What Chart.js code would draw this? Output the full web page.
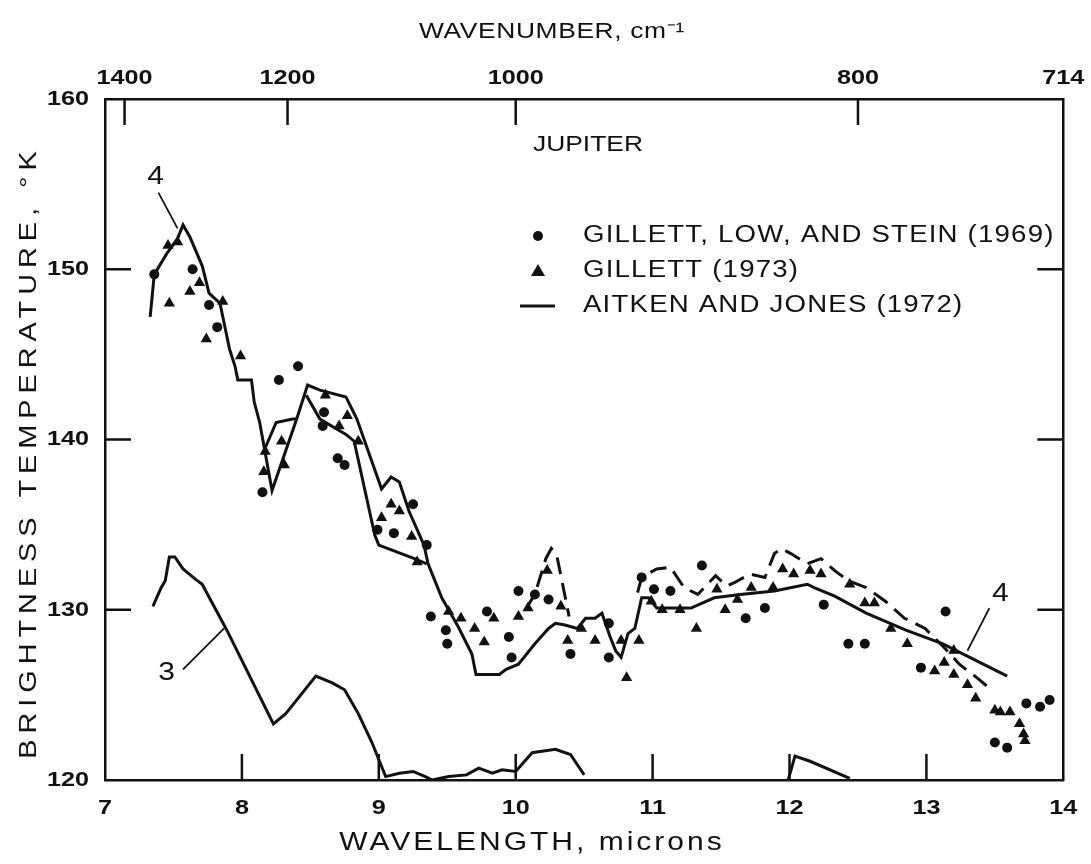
<!DOCTYPE html>
<html>
<head>
<meta charset="utf-8">
<script src="https://cdn.jsdelivr.net/npm/chart.js@4/dist/chart.umd.min.js"></script>
<style>
  html, body { margin: 0; padding: 0; background: #fff; }
</style>
</head>
<body>
<canvas id="chart" width="1091" height="864"></canvas>
<script>
// Jupiter brightness temperature spectrum, 7-14 microns

// axis ticks
const wavelengthTicks = [7, 8, 9, 10, 11, 12, 13, 14];
const wavenumberTicks = [1400, 1200, 1000, 800, 714];
const temperatureTicks = [120, 130, 140, 150, 160];

// Gillett, Low and Stein (1969) - filled circles
const glsWave = [7.36, 7.64, 7.76, 7.82, 8.15, 8.27, 8.41, 8.60, 8.59, 8.70, 8.75, 8.99, 9.11, 9.25, 9.35, 9.38,
  9.49, 9.50, 9.79, 9.95, 9.97, 10.02, 10.14, 10.24, 10.40, 10.68, 10.68, 10.92, 11.01, 11.13, 11.36, 11.68,
  11.82, 12.25, 12.43, 12.55, 12.96, 13.14, 13.50, 13.59, 13.73, 13.83, 13.90];
const glsTemp = [149.7, 150.0, 147.9, 146.6, 136.9, 143.5, 144.3, 141.6, 140.8, 138.9, 138.5, 134.7, 134.5, 136.2, 133.8, 129.6,
  128.8, 128.0, 129.9, 128.4, 127.2, 131.1, 130.9, 130.6, 127.4, 129.2, 127.2, 131.9, 131.2, 131.1, 132.6, 129.5,
  130.1, 130.3, 128.0, 128.0, 126.6, 129.9, 122.2, 121.9, 124.5, 124.3, 124.7];

// Gillett (1973) - filled triangles
const gilWave = [7.46, 7.53, 7.47, 7.62, 7.69, 7.74, 7.86, 7.99, 8.16, 8.17, 8.29, 8.31, 8.61, 8.71, 8.77, 8.85,
  9.02, 9.09, 9.15, 9.24, 9.28, 9.51, 9.60, 9.70, 9.77, 9.84, 10.02, 10.09, 10.23, 10.33, 10.38, 10.48,
  10.58, 10.77, 10.81, 10.90, 10.99, 11.07, 11.20, 11.32, 11.47, 11.53, 11.62, 11.72, 11.88, 11.95, 12.03,
  12.15, 12.23, 12.44, 12.55, 12.62, 12.74, 12.86, 13.06, 13.13, 13.20, 13.20, 13.30, 13.36, 13.54, 13.50,
  13.72, 13.61, 13.68, 13.71];
const gilTemp = [151.4, 151.6, 148.0, 148.7, 149.2, 145.9, 148.1, 144.9, 138.1, 139.3, 139.9, 138.5, 142.6, 140.8, 141.4, 139.9,
  135.4, 136.2, 135.8, 134.3, 132.8, 129.9, 129.5, 128.9, 128.1, 129.5, 129.6, 130.1, 132.3, 130.2, 128.2, 128.9,
  128.2, 128.2, 126.0, 128.2, 130.5, 130.0, 130.0, 128.9, 131.2, 130.0, 130.6, 131.3, 131.3, 132.4, 132.1,
  132.3, 132.1, 131.5, 130.4, 130.4, 128.9, 128.0, 126.4, 126.9, 127.6, 126.2, 125.6, 124.8, 124.0, 124.1,
  122.3, 124.0, 123.3, 122.7];

// Aitken and Jones (1972) - curve 4
const ajWave = [7.33, 7.36, 7.45, 7.53, 7.57, 7.62, 7.71, 7.76, 7.84, 7.91, 7.95, 7.97, 8.07, 8.09, 8.13, 8.22,
  8.40, 8.48, 8.57, 8.76, 8.84, 8.95, 9.02, 9.09, 9.15, 9.22, 9.33, 9.36, 9.46, 9.58, 9.68, 9.71, 9.76, 9.88,
  9.93, 10.02, 10.14, 10.24, 10.29, 10.36, 10.45, 10.51, 10.58, 10.63, 10.69, 10.73, 10.77, 10.82, 10.87,
  10.92, 10.97, 11.03, 11.28, 11.45, 11.64, 11.89, 12.13, 12.18, 12.33, 12.56, 12.85, 13.12, 13.59];
const ajTemp = [147.2, 149.7, 150.9, 151.8, 152.6, 151.9, 150.2, 148.6, 148.0, 145.3, 144.3, 143.5, 143.5, 142.2, 141.0, 137.0,
  141.2, 143.2, 142.9, 142.5, 141.2, 138.7, 137.1, 137.8, 137.5, 135.8, 133.8, 132.7, 130.7, 129.0, 127.4, 126.2, 126.2, 126.2,
  126.5, 126.8, 128.0, 128.9, 129.2, 129.1, 128.9, 129.5, 129.5, 129.8, 128.4, 127.6, 127.2, 128.6, 128.9,
  130.7, 130.7, 130.1, 130.1, 130.7, 130.9, 131.1, 131.5, 131.3, 130.8, 129.8, 128.8, 128.0, 126.1];

// lower branch of curve 4 between 8.2 and 9.4 microns
const ajLowWave = [8.17, 8.25, 8.37, 8.40, null, 8.47, 8.57, 8.76, 8.82, 8.97, 9.00, 9.26, 9.35];
const ajLowTemp = [139.5, 141.0, 141.2, 141.2, null, 142.6, 141.2, 140.3, 139.9, 134.4, 133.8, 133.0, 132.7];

// dashed upper envelope
const dashWave = [10.07, 10.14, 10.22, 10.26, 10.30, 10.35, 10.39, null,
  10.89, 10.92, 11.03, 11.13, 11.23, 11.33, 11.46, 11.54, 11.60, 11.71, 11.82, 11.89, 11.94, 12.01,
  12.13, 12.23, 12.33, 12.43, 12.56, 12.70, 12.84, 12.99, 13.14, 13.24, 13.37, 13.46];
const dashTemp = [130.0, 130.9, 133.0, 133.6, 133.2, 131.2, 129.6, null,
  131.0, 131.9, 132.4, 132.5, 131.3, 130.9, 132.0, 131.4, 131.6, 132.1, 131.9, 133.3, 133.6, 133.3,
  132.7, 133.0, 132.3, 131.7, 131.3, 130.5, 129.5, 128.9, 127.7, 126.8, 126.0, 125.4];

// curve 3
const c3Wave = [7.35, 7.41, 7.44, 7.47, 7.51, 7.57, 7.66, 7.71, 7.89, 8.23, 8.32, 8.42, 8.54, 8.66, 8.75, 8.85,
  8.95, 9.05, 9.15, 9.25, 9.34, 9.39, 9.51, 9.64, 9.73, 9.83, 9.90, 10.00, 10.12, 10.29, 10.40, 10.50, null,
  11.99, 12.04, 12.15, 12.44];
const c3Temp = [130.2, 131.3, 131.7, 133.1, 133.1, 132.4, 131.8, 131.5, 128.8, 123.3, 123.9, 124.9, 126.1, 125.7, 125.3, 123.9,
  122.2, 120.2, 120.4, 120.5, 120.2, 120.0, 120.2, 120.3, 120.7, 120.4, 120.6, 120.5, 121.6, 121.8, 121.5, 120.3, null,
  120.0, 121.4, 121.1, 120.1];

// curve numbers with their leader lines (data units)
const curveLabels = [
  { text: '4', x: 7.37, y: 155.4, from: [7.39, 154.5], to: [7.53, 152.4] },
  { text: '4', x: 13.54, y: 130.9, from: [13.46, 130.1], to: [13.30, 127.6] },
  { text: '3', x: 7.45, y: 126.3, from: [7.57, 126.5], to: [7.87, 128.9] }
];

const FONT = "'Liberation Sans', Arial, Helvetica, sans-serif";
const INK = '#111';
const TEXT_STRETCH = 1.2;
const TICK_LEN = 26;

function points(xs, ys) {
  return xs.map((x, i) => ({ x: x, y: ys[i] }));
}

// the lettering on this figure is wide, so every label is stretched sideways
const wideText = {
  id: 'wideText',
  beforeInit(chart) {
    const ctx = chart.ctx;
    const fill = ctx.fillText.bind(ctx);
    ctx.fillText = function (text, x, y, maxWidth) {
      ctx.save();
      ctx.translate(x, y);
      ctx.scale(TEXT_STRETCH, 1);
      if (maxWidth === undefined || maxWidth === null) fill(text, 0, 0);
      else fill(text, 0, 0, maxWidth / TEXT_STRETCH);
      ctx.restore();
    };
  }
};

// tick marks point into the plot on all four sides
const innerTicks = {
  id: 'innerTicks',
  afterDraw(chart) {
    const { ctx, chartArea: a, scales } = chart;
    ctx.save();
    ctx.strokeStyle = INK;
    ctx.lineWidth = 2.5;
    ctx.beginPath();
    scales.x.ticks.forEach(t => {
      const px = scales.x.getPixelForValue(t.value);
      if (px > a.left + 2 && px < a.right - 2) { ctx.moveTo(px, a.bottom); ctx.lineTo(px, a.bottom - TICK_LEN); }
    });
    scales.xTop.ticks.forEach(t => {
      const px = scales.xTop.getPixelForValue(t.value);
      if (px > a.left + 2 && px < a.right - 2) { ctx.moveTo(px, a.top); ctx.lineTo(px, a.top + TICK_LEN); }
    });
    scales.y.ticks.forEach(t => {
      const py = scales.y.getPixelForValue(t.value);
      if (py > a.top + 2 && py < a.bottom - 2) {
        ctx.moveTo(a.left, py); ctx.lineTo(a.left + TICK_LEN, py);
        ctx.moveTo(a.right, py); ctx.lineTo(a.right - TICK_LEN, py);
      }
    });
    ctx.stroke();
    ctx.restore();
  }
};

// spaced-out axis titles
function spacedText(ctx, text, x, y, size, spacing, angle) {
  ctx.save();
  ctx.translate(x, y);
  if (angle) ctx.rotate(angle);
  ctx.font = size + 'px ' + FONT;
  ctx.letterSpacing = spacing + 'px';
  ctx.textAlign = 'center';
  ctx.textBaseline = 'middle';
  ctx.fillText(text, 0, 0);
  ctx.restore();
}

const axisTitles = {
  id: 'axisTitles',
  afterDraw(chart) {
    const ctx = chart.ctx;
    ctx.save();
    ctx.fillStyle = INK;
    spacedText(ctx, 'WAVENUMBER, cm⁻¹', 552, 32, 22, 0.5, 0);
    spacedText(ctx, 'WAVELENGTH, microns', 532, 843, 25, 2.5, 0);
    spacedText(ctx, 'BRIGHTNESS TEMPERATURE, °K', 29, 452, 24, 5, -Math.PI / 2);
    ctx.restore();
  }
};

// key, planet name and curve numbers
const keyAndLabels = {
  id: 'keyAndLabels',
  afterDatasetsDraw(chart) {
    const { ctx, scales } = chart;
    const sx = scales.x, sy = scales.y;
    ctx.save();
    ctx.fillStyle = INK;
    ctx.strokeStyle = INK;
    ctx.textBaseline = 'middle';
    ctx.textAlign = 'left';

    ctx.font = '22px ' + FONT;
    ctx.fillText('JUPITER', 533, 145);

    const rows = [
      { y: 236, text: 'GILLETT, LOW, AND STEIN (1969)', mark: 'circle' },
      { y: 271, text: 'GILLETT (1973)', mark: 'triangle' },
      { y: 306, text: 'AITKEN AND JONES (1972)', mark: 'line' }
    ];
    const mx = 538;
    ctx.font = '23px ' + FONT;
    ctx.letterSpacing = '1px';
    rows.forEach(r => {
      if (r.mark === 'circle') {
        ctx.beginPath(); ctx.arc(mx, r.y, 5, 0, Math.PI * 2); ctx.fill();
      } else if (r.mark === 'triangle') {
        ctx.beginPath(); ctx.moveTo(mx, r.y - 7); ctx.lineTo(mx + 7, r.y + 5); ctx.lineTo(mx - 7, r.y + 5); ctx.closePath(); ctx.fill();
      } else {
        ctx.lineWidth = 3; ctx.beginPath(); ctx.moveTo(mx - 18, r.y); ctx.lineTo(mx + 17, r.y); ctx.stroke();
      }
      ctx.fillText(r.text, 583, r.y);
    });
    ctx.letterSpacing = '0px';

    ctx.font = '25px ' + FONT;
    ctx.textAlign = 'center';
    ctx.lineWidth = 1.8;
    curveLabels.forEach(l => {
      ctx.fillText(l.text, sx.getPixelForValue(l.x), sy.getPixelForValue(l.y));
      ctx.beginPath();
      ctx.moveTo(sx.getPixelForValue(l.from[0]), sy.getPixelForValue(l.from[1]));
      ctx.lineTo(sx.getPixelForValue(l.to[0]), sy.getPixelForValue(l.to[1]));
      ctx.stroke();
    });
    ctx.restore();
  }
};

const lineStyle = { showLine: true, pointRadius: 0, borderColor: INK, borderWidth: 3, fill: false, tension: 0, spanGaps: false, xAxisID: 'x', yAxisID: 'y' };
const tickFont = { family: FONT, size: 21, weight: 'bold' };
const border = { display: true, color: INK, width: 2.5 };

new Chart(document.getElementById('chart'), {
  type: 'scatter',
  data: {
    datasets: [
      { label: 'GILLETT, LOW, AND STEIN (1969)', data: points(glsWave, glsTemp), pointStyle: 'circle', pointRadius: 5,
        backgroundColor: INK, borderWidth: 0, xAxisID: 'x', yAxisID: 'y' },
      { label: 'GILLETT (1973)', data: points(gilWave, gilTemp), pointStyle: 'triangle', pointRadius: 6.5,
        backgroundColor: INK, borderWidth: 0, xAxisID: 'x', yAxisID: 'y' },
      Object.assign({ label: 'AITKEN AND JONES (1972)', data: points(ajWave, ajTemp) }, lineStyle),
      Object.assign({ label: 'AITKEN AND JONES (1972) lower', data: points(ajLowWave, ajLowTemp) }, lineStyle),
      Object.assign({ label: 'envelope', data: points(dashWave, dashTemp), borderDash: [17, 9] }, lineStyle),
      Object.assign({ label: 'curve 3', data: points(c3Wave, c3Temp) }, lineStyle)
    ]
  },
  options: {
    responsive: false,
    animation: false,
    devicePixelRatio: 1,
    layout: { padding: 0 },
    plugins: { legend: { display: false }, tooltip: { enabled: false } },
    scales: {
      x: {
        type: 'linear', position: 'bottom', min: 7, max: 14,
        afterBuildTicks(s) { s.ticks = wavelengthTicks.map(v => ({ value: v })); },
        ticks: { font: tickFont, color: INK, padding: 16, autoSkip: false, maxRotation: 0 },
        grid: { display: false, drawTicks: false },
        border: border,
        afterFit(s) { s.height = 84; }
      },
      xTop: {
        type: 'linear', position: 'top', min: 7, max: 14,
        afterBuildTicks(s) { s.ticks = wavenumberTicks.map(w => ({ value: Math.min(14, 10000 / w) })); },
        ticks: { font: tickFont, color: INK, padding: 8, autoSkip: false, maxRotation: 0,
          callback: (v, i) => String(wavenumberTicks[i]) },
        grid: { display: false, drawTicks: false },
        border: border,
        afterFit(s) { s.height = 99; }
      },
      y: {
        type: 'linear', position: 'left', min: 120, max: 160,
        afterBuildTicks(s) { s.ticks = temperatureTicks.map(v => ({ value: v })); },
        ticks: { font: tickFont, color: INK, padding: 16 },
        grid: { display: false, drawTicks: false },
        border: border,
        afterFit(s) { s.width = 105; }
      },
      yRight: {
        type: 'linear', position: 'right', min: 120, max: 160,
        ticks: { display: false },
        grid: { display: false, drawTicks: false },
        border: border,
        afterFit(s) { s.width = 24; }
      }
    }
  },
  plugins: [wideText, innerTicks, axisTitles, keyAndLabels]
});
</script>
</body>
</html>
